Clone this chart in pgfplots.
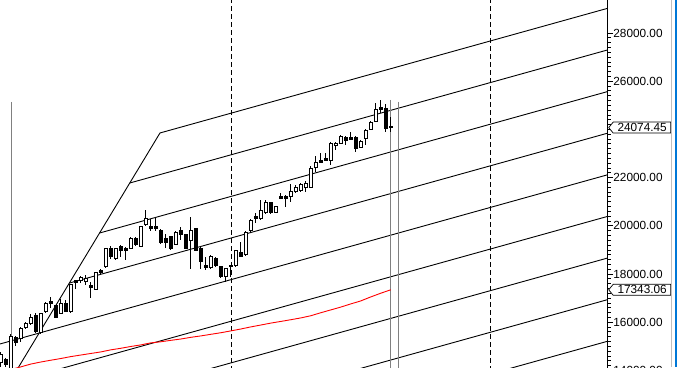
\documentclass[border=0pt]{standalone}
\usepackage{pgfplots}
\pgfplotsset{compat=1.18}
\usepackage{fontspec}
\setmainfont{Liberation Sans}
\definecolor{winblue}{RGB}{0,120,215}
\definecolor{vgray}{RGB}{128,128,128}
% candle macros: k, open, high, low, close
\newcommand{\candle}[6]{%
  \pgfmathsetmacro\xl{#2-0.33}\pgfmathsetmacro\xr{#2+0.33}%
  \addplot[black, line width=0.9pt, forget plot] coordinates {(#2,#5) (#2,#4)};
  \edef\tmp{\noexpand\addplot[black, line width=0.9pt, fill=#1, forget plot] coordinates {(\xl,#3) (\xr,#3) (\xr,#6) (\xl,#6)} -- cycle;}\tmp
}
\newcommand{\up}[5]{\candle{white}{#1}{#2}{#3}{#4}{#5}}
\newcommand{\dn}[5]{\candle{black}{#1}{#2}{#3}{#4}{#5}}
\begin{document}
\begin{tikzpicture}
\begin{axis}[
  width=607.7pt, height=382.4pt, scale only axis,
  xmin=-0.14, xmax=121.4, ymin=13500, ymax=29369,
  axis x line=none, axis y line*=right,
  xtick=\empty,
  axis line style={-, black, line width=0.8pt},
  ytick={14000,16000,18000,20000,22000,24000,26000,28000},
  yticklabels={14000.00,16000.00,18000.00,20000.00,22000.00,,26000.00,28000.00},
  minor y tick num=9,
  tick align=outside,
  major tick length=5.5pt, minor tick length=3pt,
  tick style={black, line width=0.7pt},
  yticklabel style={font=\fontsize{11.8}{13}\selectfont, anchor=west, inner sep=0pt, xshift=0pt},
  clip=true,
]
\coordinate (tl) at (rel axis cs:0,1);
% pitchfork / channel lines
\addplot[black, line width=0.9pt] coordinates {(-2,12220) (31.86,23851)};
\addplot[black, line width=0.9pt] coordinates {(31.86,23851) (125,29233)};
\addplot[black, line width=0.9pt] coordinates {(25.82,21775) (125,27506)};
\addplot[black, line width=0.9pt] coordinates {(19.77,19699) (125,25779)};
\addplot[black, line width=0.9pt] coordinates {(13.73,17623) (125,24052)};
\addplot[black, line width=0.9pt] coordinates {(-5,14814) (125,22325)};
\addplot[black, line width=0.9pt] coordinates {(-5,13087) (125,20598)};
\addplot[black, line width=0.9pt] coordinates {(-5,11360) (125,18871)};
\addplot[black, line width=0.9pt] coordinates {(-5,9633) (125,17144)};
\addplot[black, line width=0.9pt] coordinates {(-5,7906) (125,15417)};
% vertical lines
\addplot[black, line width=0.8pt, dash pattern=on 5pt off 3pt] coordinates {(46.06,10000) (46.06,30000)};
\addplot[black, line width=0.8pt, dash pattern=on 5pt off 3pt] coordinates {(97.86,10000) (97.86,30000)};
\addplot[vgray, line width=0.9pt] coordinates {(2.1,25137) (2.1,10000)};
\addplot[vgray, line width=0.9pt] coordinates {(77.95,25220) (77.95,10000)};
\addplot[vgray, line width=0.9pt] coordinates {(79.55,25150) (79.55,10000)};
% moving average
\addplot[red, line width=0.9pt] coordinates {(0,13935) (4,14142) (6,14260) (8,14345) (10,14420) (12,14490) (14,14570) (16,14635) (18,14700) (20,14764) (22,14850) (24,14915) (26,14990) (28,15055) (30,15140) (32,15185) (34,15245) (36,15300) (38,15370) (40,15428) (42,15495) (44,15560) (46,15636) (48,15715) (50,15802) (52,15880) (54,15960) (56,16030) (58,16100) (60,16175) (62,16265) (64,16390) (66,16507) (68,16625) (70,16756) (72,16880) (74,17046) (76,17200) (78,17343.06)};
% candles
\up{0}{14308}{14764}{14142}{14640}
\dn{1}{14432}{14515}{14142}{14225}
\up{2}{14059}{15511}{13935}{15387}
\dn{3}{15345}{15428}{15013}{15138}
\up{4}{15304}{15802}{15179}{15719}
\up{5}{15760}{16009}{15719}{15926}
\up{6}{15926}{16341}{15885}{16175}
\dn{7}{16299}{16382}{15553}{15594}
\up{8}{15553}{16382}{15511}{16341}
\up{9}{16424}{16839}{16382}{16756}
\dn{10}{16880}{17046}{16590}{16797}
\dn{11}{16673}{16714}{16175}{16216}
\up{12}{16382}{16963}{16341}{16756}
\dn{13}{16797}{16922}{16424}{16465}
\up{14}{16424}{17586}{16382}{17544}
\dn{15}{17710}{17752}{17378}{17627}
\up{16}{17710}{17918}{17627}{17835}
\up{17}{17669}{17959}{17544}{17793}
\dn{18}{17503}{17669}{17005}{17420}
\up{19}{17378}{18084}{17337}{18042}
\dn{20}{18125}{18208}{18001}{18042}
\up{21}{18291}{19079}{18250}{19038}
\dn{22}{19079}{19162}{18623}{18706}
\up{23}{18623}{19079}{18582}{19038}
\dn{24}{19121}{19204}{18706}{18996}
\dn{25}{19079}{19121}{18582}{18996}
\up{26}{19079}{19536}{19038}{19453}
\dn{27}{19494}{19536}{19162}{19204}
\up{28}{19162}{19992}{19121}{19951}
\up{29}{20034}{20656}{19992}{20283}
\dn{30}{19951}{20283}{19785}{19868}
\dn{31}{19951}{20324}{19785}{19868}
\dn{32}{19826}{19868}{19245}{19287}
\dn{33}{19494}{19660}{19079}{19328}
\dn{34}{19536}{19577}{18996}{19038}
\up{35}{19245}{19785}{19204}{19743}
\dn{36}{19826}{19951}{19411}{19619}
\dn{37}{19619}{19660}{19038}{19079}
\up{38}{19370}{20366}{18208}{19826}
\dn{39}{19868}{19909}{18955}{18996}
\dn{40}{19079}{19121}{18208}{18499}
\dn{41}{18333}{18706}{18167}{18250}
\up{42}{18250}{18789}{18208}{18747}
\dn{43}{18664}{18706}{18291}{18333}
\dn{44}{18291}{18333}{17835}{17876}
\up{45}{17876}{18250}{17669}{18208}
\dn{46}{18333}{18374}{17876}{18291}
\up{47}{18333}{18996}{18291}{18955}
\dn{48}{18913}{19328}{18706}{18747}
\up{49}{18789}{19785}{18747}{19743}
\up{50}{19785}{20283}{19743}{20241}
\dn{51}{20407}{20532}{20117}{20324}
\up{52}{20283}{21071}{20241}{20656}
\up{53}{20532}{21071}{20490}{20988}
\dn{54}{20947}{20988}{20490}{20532}
\up{55}{20573}{20822}{20532}{20781}
\dn{56}{21237}{21361}{21113}{21154}
\dn{57}{21237}{21278}{20781}{21154}
\up{58}{21196}{21735}{20988}{21444}
\up{59}{21444}{21693}{21361}{21610}
\up{60}{21486}{21776}{21403}{21735}
\up{61}{21610}{21859}{21403}{21776}
\up{62}{21610}{22482}{21569}{22399}
\up{63}{22440}{22897}{22233}{22648}
\dn{64}{22731}{23021}{22606}{22648}
\dn{65}{22814}{23021}{22689}{22731}
\up{66}{22731}{23477}{22523}{23436}
\up{67}{23353}{23477}{23145}{23436}
\up{68}{23436}{23768}{23394}{23726}
\dn{69}{23685}{23726}{23353}{23560}
\dn{70}{23685}{23892}{23560}{23602}
\dn{71}{23685}{23726}{23062}{23228}
\up{72}{23270}{23560}{23228}{23519}
\up{73}{23643}{24017}{23353}{23975}
\up{74}{24017}{24349}{23975}{24307}
\up{75}{24349}{25095}{24307}{24847}
\dn{76}{24929}{25220}{24681}{24847}
\dn{77}{24888}{25054}{23892}{24058}
\dn{78}{24141}{24515}{23892}{24074.45}
\coordinate (p1) at (axis cs:121.4,24074.45);
\coordinate (p2) at (axis cs:121.4,17343.06);
\end{axis}
% price tags
\foreach \p/\t in {p1/24074.45, p2/17343.06}{
  \draw[black, line width=0.7pt, fill=white] ([xshift=1pt]\p) -- ++(4.5pt,5.5pt) -- ++(57.5pt,0) -- ++(0,-11pt) -- ++(-57.5pt,0) -- cycle;
  \node[anchor=west, inner sep=0pt, font=\fontsize{11.8}{13}\selectfont] at ([xshift=9.6pt]\p) {\t};
}
\draw[gray!50, line width=0.8pt] ([xshift=671.8pt]tl) -- ++(0,-367pt);
\draw[winblue, line width=2.6pt] ([xshift=675.8pt]tl) -- ++(0,-367pt);
\pgfresetboundingbox
\path[use as bounding box] (tl) rectangle ([xshift=679pt,yshift=-367pt]tl);
\end{tikzpicture}
\end{document}
